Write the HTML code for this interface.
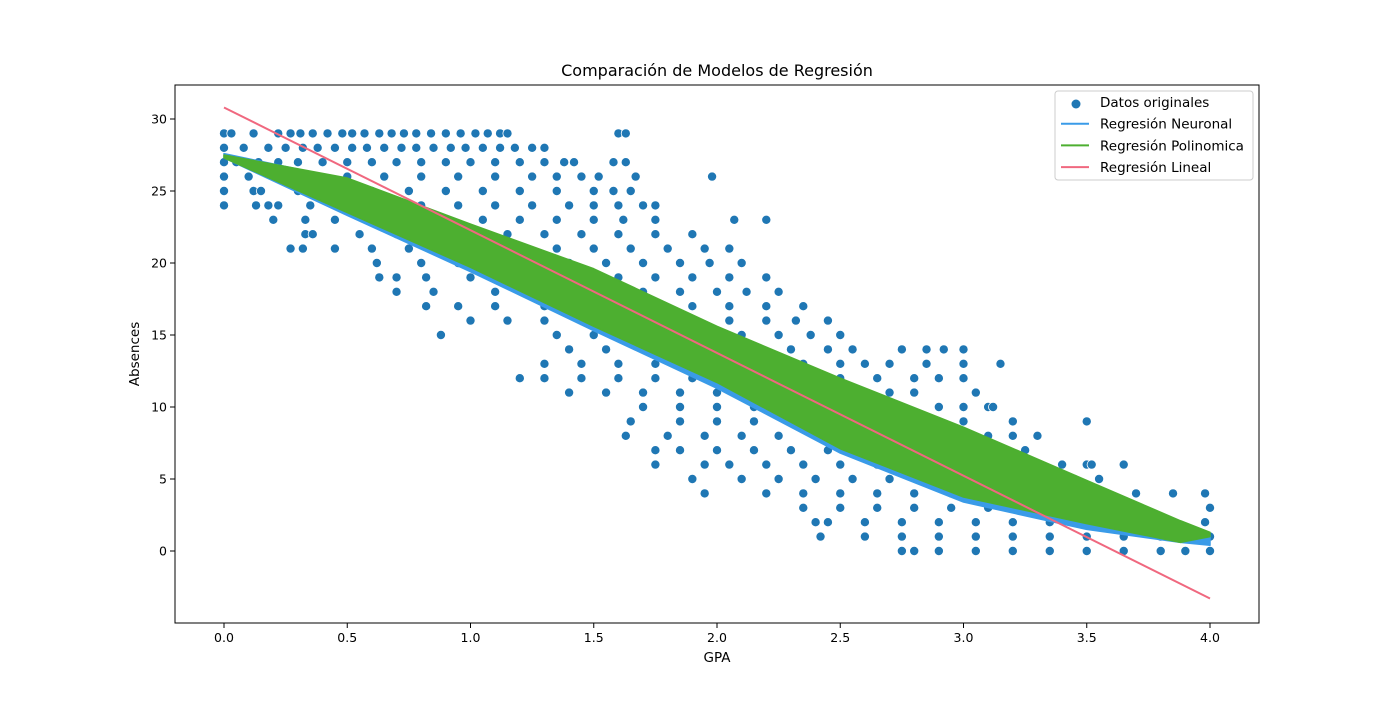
<!DOCTYPE html>
<html><head><meta charset="utf-8">
<style>
body{margin:0;background:#fff;}
svg text{font-family:"DejaVu Sans","Liberation Sans",sans-serif;fill:#000;}
</style></head>
<body>
<svg id="chart" width="1400" height="700" viewBox="0 0 1400 700" xmlns="http://www.w3.org/2000/svg">
<rect width="1400" height="700" fill="#fff"/>
<g id="plot"></g>
</svg>
<script>
const xTicks=[0,0.5,1,1.5,2,2.5,3,3.5,4];
const xTickLabels=["0.0","0.5","1.0","1.5","2.0","2.5","3.0","3.5","4.0"];
const yTicks=[0,5,10,15,20,25,30];
const rowAbsences=[29,28,27,26,25,24,23,22,21,20,19,18,17,16,15,14,13,12,11,10,9,8,7,6,5,4,3,2,1,0];
const rowGPA=[
[0,0.03,0.12,0.22,0.27,0.31,0.36,0.42,0.48,0.52,0.57,0.63,0.68,0.73,0.78,0.84,0.9,0.96,1.02,1.07,1.12,1.15,1.6,1.63],
[0,0.08,0.18,0.25,0.32,0.38,0.45,0.52,0.58,0.65,0.72,0.78,0.85,0.92,0.98,1.05,1.12,1.18,1.25,1.3],
[0,0.05,0.14,0.22,0.3,0.4,0.5,0.6,0.7,0.8,0.9,1.0,1.1,1.2,1.3,1.38,1.42,1.58,1.63],
[0,0.1,0.2,0.35,0.5,0.65,0.8,0.95,1.1,1.25,1.35,1.45,1.52,1.67,1.98],
[0,0.12,0.15,0.3,0.45,0.6,0.75,0.9,1.05,1.2,1.35,1.5,1.58,1.65],
[0,0.13,0.18,0.22,0.35,0.5,0.65,0.8,0.95,1.1,1.25,1.4,1.5,1.6,1.7,1.75],
[0.2,0.33,0.45,0.6,0.75,0.9,1.05,1.2,1.35,1.5,1.62,1.75,2.07,2.2],
[0.33,0.36,0.55,0.7,0.85,1.0,1.15,1.3,1.45,1.6,1.75,1.9],
[0.27,0.32,0.45,0.6,0.75,0.9,1.05,1.2,1.35,1.5,1.65,1.8,1.95,2.05],
[0.62,0.8,0.95,1.1,1.25,1.4,1.55,1.7,1.85,1.97,2.1],
[0.63,0.7,0.82,1.0,1.15,1.3,1.45,1.6,1.75,1.9,2.05,2.2],
[0.7,0.85,1.1,1.25,1.4,1.55,1.7,1.85,2.0,2.12,2.25],
[0.82,0.95,1.1,1.3,1.45,1.6,1.75,1.9,2.05,2.2,2.35],
[1.0,1.15,1.3,1.45,1.6,1.75,1.9,2.05,2.2,2.32,2.45],
[0.88,1.35,1.5,1.65,1.8,1.95,2.1,2.25,2.38,2.5],
[1.4,1.55,1.7,1.85,2.0,2.15,2.3,2.45,2.55,2.75,2.85,2.92,3.0],
[1.3,1.45,1.6,1.75,1.9,2.05,2.2,2.35,2.5,2.6,2.7,2.85,3.0,3.15],
[1.2,1.3,1.45,1.6,1.75,1.9,2.05,2.2,2.35,2.5,2.65,2.8,2.9,3.0],
[1.4,1.55,1.7,1.85,2.0,2.15,2.3,2.45,2.6,2.7,2.8,3.05],
[1.7,1.85,2.0,2.15,2.3,2.45,2.6,2.75,2.9,3.0,3.1,3.12],
[1.65,1.85,2.0,2.15,2.3,2.45,2.6,2.75,2.9,3.0,3.2,3.5],
[1.63,1.8,1.95,2.1,2.25,2.4,2.55,2.7,2.85,3.0,3.1,3.2,3.3],
[1.75,1.85,2.0,2.15,2.3,2.45,2.6,2.75,2.9,3.05,3.15,3.25],
[1.75,1.95,2.05,2.2,2.35,2.5,2.65,2.8,2.95,3.1,3.25,3.4,3.5,3.52,3.65],
[1.9,2.1,2.25,2.4,2.55,2.7,2.85,3.0,3.15,3.3,3.45,3.55],
[1.95,2.2,2.35,2.5,2.65,2.8,2.95,3.1,3.25,3.4,3.55,3.7,3.85,3.98],
[2.35,2.5,2.65,2.8,2.95,3.1,3.25,3.3,3.45,3.6,4.0],
[2.4,2.45,2.6,2.75,2.9,3.05,3.2,3.35,3.5,3.6,3.98],
[2.42,2.6,2.75,2.9,3.05,3.2,3.35,3.5,3.65,3.8,3.85,4.0],
[2.75,2.8,2.9,3.05,3.2,3.35,3.5,3.65,3.8,3.9,4.0]
];
const bandGPA=[0,0.5,1,1.5,2,2.5,3,3.5,3.88,4];
const polyUpper=[27.5,25.9,22.7,19.6,15.6,12.0,8.6,4.9,2.1,1.3];
const polyLower=[27.3,23.5,19.7,15.6,11.7,7.1,3.75,1.9,0.6,1.0];
const neuralUpper=[27.6,25.8,22.6,19.4,15.4,11.8,8.3,4.6,1.9,1.1];
const neuralLower=[27.3,23.3,19.4,15.3,11.3,6.8,3.4,1.5,0.6,0.4];
const linearGPA=[0,4];
const linearAbs=[30.8,-3.3];

const X0=175,X1=1259,Y0=85,Y1=623;
const sx=v=>224+v*246.5;
const sy=v=>551-v*14.4;
const NS="http://www.w3.org/2000/svg";
const g=document.getElementById('plot');
function mk(tag,attrs,parent){const e=document.createElementNS(NS,tag);for(const k in attrs)e.setAttribute(k,attrs[k]);(parent||g).appendChild(e);return e;}

const sc=mk('g',{});


rowAbsences.forEach((a,i)=>{rowGPA[i].forEach(x=>{
 const c=mk('circle',{cx:sx(x),cy:sy(a),r:4.6,fill:'#1f77b4',stroke:'#fff','stroke-width':0.8},sc);
 
 
});});

function band(up,lo,color,name){
 let d='M'+bandGPA.map((x,i)=>sx(x)+','+sy(up[i])).join(' L');
 d+=' L'+bandGPA.map((x,i)=>sx(x)+','+sy(lo[i])).reverse().join(' L')+' Z';
 const p=mk('path',{d:d,fill:color,stroke:color,'stroke-width':1.5,'stroke-linejoin':'round'});
 
 
}
band(neuralUpper,neuralLower,'#3a9be8','neural-regression-band');
band(polyUpper,polyLower,'#4daf30','polynomial-regression-band');
const ln=mk('line',{x1:sx(linearGPA[0]),y1:sy(linearAbs[0]),x2:sx(linearGPA[1]),y2:sy(linearAbs[1]),stroke:'#f0687f','stroke-width':2});



const fr=mk('rect',{x:X0,y:Y0,width:X1-X0,height:Y1-Y0,fill:'none',stroke:'#000','stroke-width':1});



xTicks.forEach((v,i)=>{
 mk('line',{x1:sx(v),x2:sx(v),y1:Y1,y2:Y1+5,stroke:'#000'});
 const t=mk('text',{x:sx(v),y:Y1+19,'text-anchor':'middle','font-size':12.5});
 t.textContent=xTickLabels[i];
 
 
});
yTicks.forEach(v=>{
 mk('line',{x1:X0-5,x2:X0,y1:sy(v),y2:sy(v),stroke:'#000'});
 const t=mk('text',{x:X0-8,y:sy(v)+4.5,'text-anchor':'end','font-size':12.5});
 t.textContent=String(v);
 
 
});
let t=mk('text',{x:717,y:662,'text-anchor':'middle','font-size':13.5});t.textContent='GPA';


t=mk('text',{x:139,y:354,'text-anchor':'middle','font-size':13.5,transform:'rotate(-90 139 354)'});t.textContent='Absences';


t=mk('text',{x:717,y:76,'text-anchor':'middle','font-size':16});t.textContent='Comparación de Modelos de Regresión';



const lg=mk('g',{});


mk('rect',{x:1055,y:91,width:198,height:89,rx:3,fill:'#fff','fill-opacity':0.85,stroke:'#ccc'},lg);
const entries=[['Datos originales','pt','#1f77b4'],['Regresión Neuronal','ln','#3a9be8'],['Regresión Polinomica','ln','#4daf30'],['Regresión Lineal','ln','#f0687f']];
entries.forEach((e,i)=>{
 const y=102+i*21.7;
 if(e[1]==='pt'){mk('circle',{cx:1076,cy:y+2,r:4.5,fill:e[2]},lg);}
 else mk('line',{x1:1061,x2:1089,y1:y,y2:y,stroke:e[2],'stroke-width':2},lg);
 const tx=mk('text',{x:1100,y:y+5,'font-size':13.5},lg);
 tx.textContent=e[0];
 
 
});
</script>
</body></html>
